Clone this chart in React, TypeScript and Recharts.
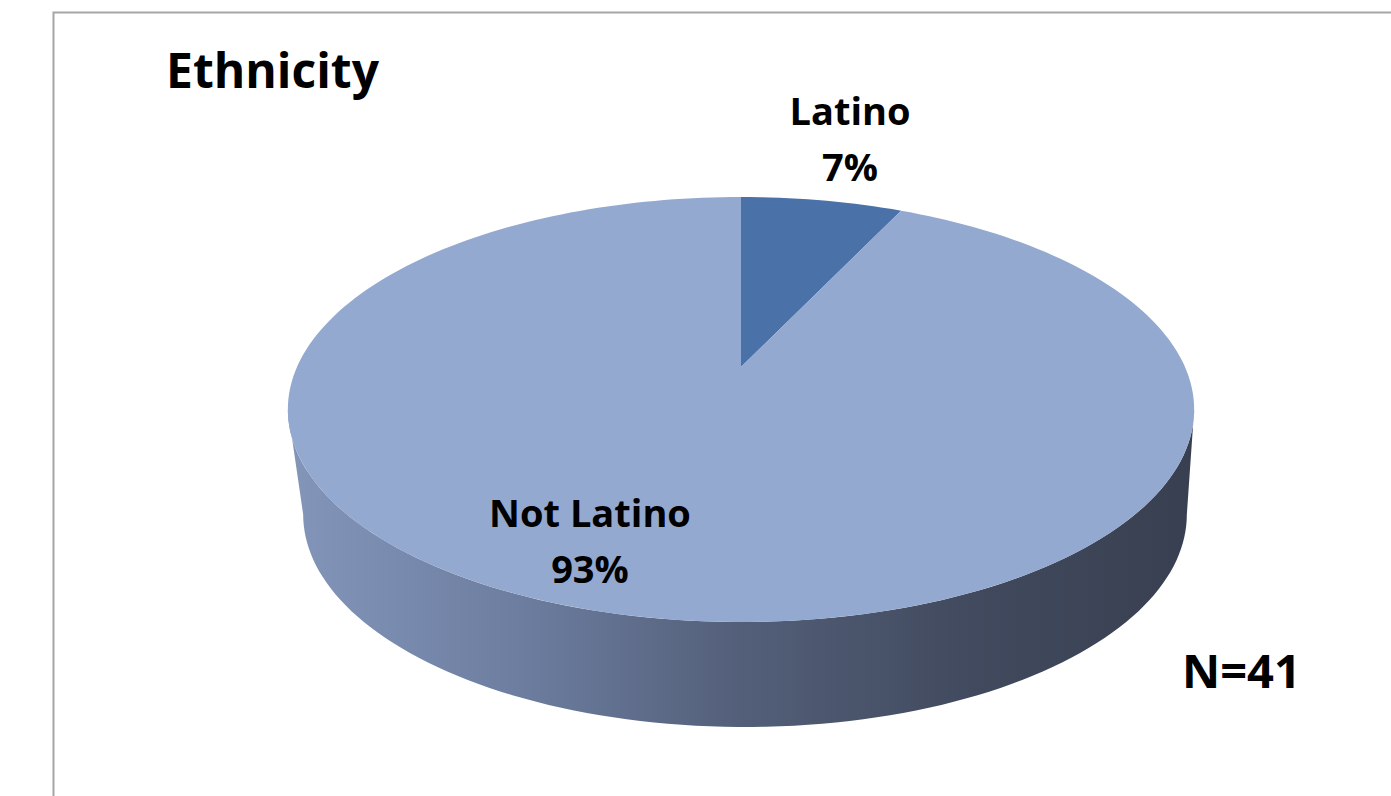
import React from 'react';
import { PieChart, Pie } from 'recharts';

// ---------- data ----------
const categories = ['Latino', 'Not Latino'];
const shares = [7, 93];
const percentLabels = ['7%', '93%'];
const chartTitle = 'Ethnicity';
const sampleLabel = 'N=41';

const data = categories.map((name, i) => ({ name, value: shares[i], pct: percentLabels[i] }));

// ---------- layout / style ----------
const W = 1391;
const H = 796;
const PIE_CX = 741;
const PIE_CY = 367;
const PIE_R = 444;
const PERSPECTIVE = 0.2;
const TILT = 0.4595;
const DEPTH = 105;
const BOTTOM_SCALE = 0.975;
const BOTTOM_SHIFT_X = 4;
const TANGENT_DEG = (Math.asin(PERSPECTIVE) * 180) / Math.PI;

const SLICE_COLORS = ['#4a71a8', '#93a9d0'];
const LABEL_POS = [
  { x: 850, y: 125 },
  { x: 590, y: 527 },
];
const LINE_GAP = 56;
const FONT = '"Open Sans", Lato, "Noto Sans", sans-serif';

const rad = (d: number) => (d * Math.PI) / 180;

function topPoint(cx: number, cy: number, R: number, deg: number): [number, number] {
  const u = Math.cos(rad(deg));
  const v = Math.sin(rad(deg));
  const d = 1 + PERSPECTIVE * v;
  return [cx + (R * u) / d, cy - (R * TILT * v) / d];
}

function bottomPoint(cx: number, cy: number, R: number, deg: number): [number, number] {
  const u = Math.cos(rad(deg));
  const v = Math.sin(rad(deg));
  const d = 1 + PERSPECTIVE * v;
  return [cx + BOTTOM_SHIFT_X + (R * BOTTOM_SCALE * u) / d, cy + DEPTH - (R * TILT * v) / d];
}

function arcPoints(
  fn: (cx: number, cy: number, R: number, deg: number) => [number, number],
  cx: number,
  cy: number,
  R: number,
  a0: number,
  a1: number
) {
  const steps = Math.max(4, Math.ceil(Math.abs(a1 - a0) / 1.5));
  const pts: [number, number][] = [];
  for (let i = 0; i <= steps; i++) {
    pts.push(fn(cx, cy, R, a0 + ((a1 - a0) * i) / steps));
  }
  return pts;
}

const toPath = (pts: [number, number][]) =>
  pts.map((p, i) => `${i === 0 ? 'M' : 'L'}${p[0].toFixed(2)},${p[1].toFixed(2)}`).join(' ') + ' Z';

function renderSlice(props: any) {
  const { cx, cy, outerRadius, startAngle, endAngle, index } = props;
  const lo = Math.min(startAngle, endAngle);
  const hi = Math.max(startAngle, endAngle);

  // visible side wall intervals
  const walls: React.ReactNode[] = [];
  for (let k = -2; k <= 1; k++) {
    const w0 = 180 + TANGENT_DEG + 360 * k;
    const w1 = 360 - TANGENT_DEG + 360 * k;
    const a = Math.max(lo, w0);
    const b = Math.min(hi, w1);
    if (b > a) {
      const top = arcPoints(topPoint, cx, cy, outerRadius, a, b);
      const bot = arcPoints(bottomPoint, cx, cy, outerRadius, b, a);
      walls.push(<path key={`w${k}`} d={toPath([...top, ...bot])} fill="url(#wallGrad)" stroke="none" />);
    }
  }

  const face = [[cx, cy] as [number, number], ...arcPoints(topPoint, cx, cy, outerRadius, startAngle, endAngle)];
  const pos = LABEL_POS[index];
  const entry = data[index];

  return (
    <g key={`slice-${index}`}>
      {walls}
      <path d={toPath(face)} fill={SLICE_COLORS[index]} stroke="none" />
      <text x={pos.x} y={pos.y} textAnchor="middle" fontFamily={FONT} fontWeight={700} fontSize={38} fill="#000">
        {entry.name}
      </text>
      <text
        x={pos.x}
        y={pos.y + LINE_GAP}
        textAnchor="middle"
        fontFamily={FONT}
        fontWeight={700}
        fontSize={38}
        fill="#000"
      >
        {entry.pct}
      </text>
    </g>
  );
}

export default function App() {
  return (
    <div style={{ position: 'absolute', left: 0, top: 0, width: W, height: H, background: '#fff', overflow: 'hidden' }}>
      <svg width={W} height={H} style={{ position: 'absolute', left: 0, top: 0 }}>
        <rect x={53.5} y={12.5} width={1500} height={900} fill="#fff" stroke="#a6a6a6" strokeWidth={2} />
      </svg>
      <div style={{ position: 'absolute', left: 0, top: 0 }}>
        <PieChart width={W} height={H} margin={{ top: 0, right: 0, bottom: 0, left: 0 }}>
          <defs>
            <linearGradient id="wallGrad" gradientUnits="userSpaceOnUse" x1={288} y1={0} x2={1195} y2={0}>
              <stop offset="0" stopColor="#8396ba" />
              <stop offset="0.25" stopColor="#6d7ea0" />
              <stop offset="0.5" stopColor="#535f79" />
              <stop offset="0.75" stopColor="#414a5e" />
              <stop offset="1" stopColor="#383f50" />
            </linearGradient>
          </defs>
          <Pie
            data={data}
            dataKey="value"
            nameKey="name"
            cx={PIE_CX}
            cy={PIE_CY}
            outerRadius={PIE_R}
            startAngle={90}
            endAngle={-270}
            fill="transparent"
            stroke="none"
            label={renderSlice}
            labelLine={false}
            isAnimationActive={false}
          />
        </PieChart>
      </div>
      <svg width={W} height={H} style={{ position: 'absolute', left: 0, top: 0, pointerEvents: 'none' }}>
        <text x={166} y={88} fontFamily={FONT} fontWeight={700} fontSize={48} fill="#000">
          {chartTitle}
        </text>
        <text x={1182} y={688} fontFamily={FONT} fontWeight={700} fontSize={47} fill="#000">
          {sampleLabel}
        </text>
      </svg>
    </div>
  );
}
